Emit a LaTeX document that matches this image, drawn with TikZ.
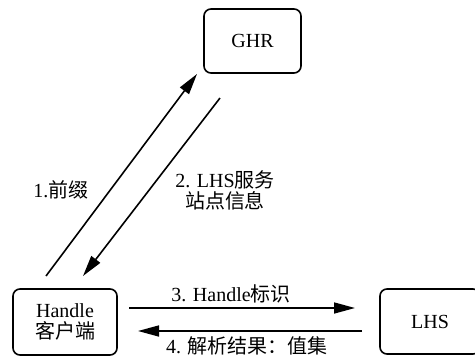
\documentclass[tikz,border=0pt]{standalone}
\usepackage{fontspec}
\setmainfont{Liberation Serif}
\newfontfamily\cjk{Noto Sans CJK SC}
\newcommand\zh[1]{{\cjk #1}}
\usetikzlibrary{arrows.meta,calc}
\begin{document}
\begin{tikzpicture}[x=1pt,y=-1pt,
  box/.style={draw,line width=1.6pt,rounded corners=7pt,inner sep=0pt,align=center},
  lbl/.style={inner sep=0pt,align=center},
  conn/.style={line width=1.6pt,-{Triangle[length=21pt,width=11pt]}},
  font=\fontsize{20}{22}\selectfont]
\useasboundingbox (0,0) rectangle (475,357);
\clip (0,0) rectangle (475,357);
\node[box,minimum width=97pt,minimum height=64pt] (ghr) at (252.5,41) {GHR};
\node[box,minimum width=104pt,minimum height=66pt] (hc) at (65,322) {Handle\\[-1pt]\zh{客户端}};
\node[box,minimum width=100pt,minimum height=65pt] (lhs) at (430,321.5) {LHS};
\coordinate (a1s) at (46,276);
\coordinate (a1e) at (197,74);
\coordinate (a2s) at (220,98);
\coordinate (a2e) at (83,276);
\coordinate (a3s) at (129,308);
\coordinate (a3e) at (355,308);
\coordinate (a4s) at (362,331);
\coordinate (a4e) at (138,331);
\draw[conn] (a1s) -- (a1e);
\draw[conn] (a2s) -- (a2e);
\draw[conn] (a3s) -- (a3e);
\draw[conn] (a4s) -- (a4e);
\node[lbl] (l1) at (61,190) {1.\zh{前缀}};
\node[lbl] (l2) at (225,190) {2. LHS\zh{服务}\\[-1pt]\zh{站点信息}};
\node[lbl] (l3) at (231,294) {3. Handle\zh{标识}};
\node[lbl] (l4) at (247,346) {4. \zh{解析结果：值集}};
\end{tikzpicture}
\end{document}
